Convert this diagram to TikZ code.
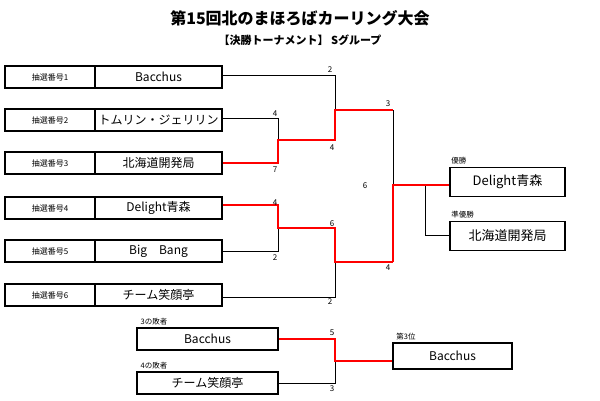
\documentclass[tikz,border=0pt]{standalone}
\usepackage{fontspec}
\setmainfont{Noto Sans CJK JP}
\begin{document}
\begin{tikzpicture}[x=1pt,y=-1pt,
  numbox/.style={draw=black,line width=1.2pt,minimum width=90pt,minimum height=22pt,font=\fontsize{8}{8}\selectfont,inner sep=0pt},
  teambox/.style={draw=black,line width=1.2pt,minimum width=127pt,minimum height=22pt,font=\fontsize{12}{12}\selectfont,inner sep=0pt},
  lossbox/.style={draw=black,line width=1.2pt,minimum width=141pt,minimum height=22pt,font=\fontsize{12}{12}\selectfont,inner sep=0pt},
  winbox/.style={draw=black,line width=1.6pt,minimum width=115pt,minimum height=29pt,font=\fontsize{13}{13}\selectfont,inner sep=0pt},
  score/.style={font=\fontsize{8}{8}\selectfont,inner sep=1pt},
  boxcap/.style={font=\fontsize{7.5}{7.5}\selectfont,inner sep=0pt,anchor=south west},
  line/.style={draw=black,line width=0.8pt},
  won/.style={draw=red,line width=1.8pt}]

\useasboundingbox (0,0) rectangle (600,400);

\node (title) at (300,18) {\fontsize{16}{16}\selectfont\bfseries 第15回北のまほろばカーリング大会};
\node (sub) at (300,40) {\fontsize{11}{11}\selectfont\bfseries 【決勝トーナメント】 Sグループ};

% draw boxes
\foreach \i/\y/\t in {1/77/Bacchus,2/120/トムリン・ジェリリン,3/163/北海道開発局,4/208/Delight青森,5/251/Big\quad Bang,6/295/チーム笑顔亭}{
  \node[numbox] (n\i) at (50,\y) {抽選番号\i};
  \node[teambox] (t\i) at (158.5,\y) {\t};
}

% junctions
\coordinate (a1) at (278,118);
\coordinate (a2) at (278,163);
\coordinate (am) at (278,140);
\coordinate (b1) at (278,205);
\coordinate (b2) at (278,251);
\coordinate (bm) at (278,228);
\coordinate (c0) at (335,75);
\coordinate (c1) at (335,110);
\coordinate (c2) at (335,140);
\coordinate (d1) at (335,228);
\coordinate (d2) at (335,262);
\coordinate (d3) at (335,297);
\coordinate (f1) at (393,110);
\coordinate (fm) at (393,185);
\coordinate (f2) at (393,262);
\coordinate (r0) at (425,185);
\coordinate (r1) at (425,235);

% upper half
\path[line] (t1.east |- c0) -- (c0) -- (c1);
\path[line] (t2.east |- a1) -- (a1) -- (am);
\path[line] (f1) -- (fm);
\path[won] (t3.east |- a2) -- (a2) -- (am) -- (c2) -- (c1) -- (f1);

% lower half
\path[line] (t5.east |- b2) -- (b2) -- (bm);
\path[line] (t6.east |- d3) -- (d3) -- (d2);
\path[won] (t4.east |- b1) -- (b1) -- (bm) -- (d1) -- (d2) -- (f2);

% final
\node[winbox] (win) at (507.5,182) {Delight青森};
\node[winbox] (run) at (507.5,236) {北海道開発局};
\node[boxcap] at (win.north west) [xshift=2pt,yshift=2pt] {優勝};
\node[boxcap] at (run.north west) [xshift=2pt,yshift=2pt] {準優勝};
\path[line] (r0) -- (r1) -- (run.west |- r1);
\path[won] (f2) -- (fm) -- (win.west |- fm);

% third place
\node[lossbox] (l1) at (207.5,339) {Bacchus};
\node[lossbox] (l2) at (207.5,383) {チーム笑顔亭};
\node[boxcap] at (l1.north west) [xshift=4pt,yshift=2pt] {3の敗者};
\node[boxcap] at (l2.north west) [xshift=4pt,yshift=2pt] {4の敗者};
\node[draw=black,line width=1.6pt,minimum width=119pt,minimum height=26pt,font=\fontsize{12}{12}\selectfont,inner sep=0pt] (third) at (452.5,356) {Bacchus};
\node[boxcap] at (third.north west) [xshift=4pt,yshift=2pt] {第3位};
\coordinate (e1) at (335,339);
\coordinate (e2) at (335,383);
\coordinate (em) at (335,361);
\path[line] (l2.east) -- (e2) -- (em);
\path[won] (l1.east) -- (e1) -- (em) -- (third.west |- em);

% scores
\node[score] at (330,70) {2};
\node[score] at (388,104) {3};
\node[score] at (275,114) {4};
\node[score] at (275,170) {7};
\node[score] at (332,148) {4};
\node[score] at (365,186) {6};
\node[score] at (275,203) {4};
\node[score] at (275,258) {2};
\node[score] at (332,224) {6};
\node[score] at (330,302) {2};
\node[score] at (388,268) {4};
\node[score] at (332,333) {5};
\node[score] at (332,389) {3};
\end{tikzpicture}
\end{document}
